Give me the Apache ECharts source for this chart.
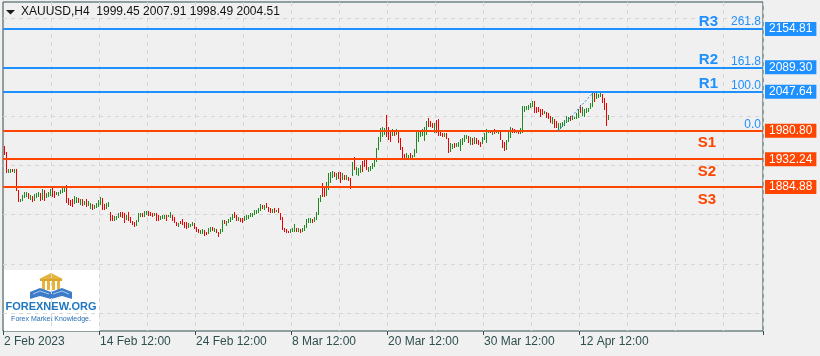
<!DOCTYPE html>
<html>
<head>
<meta charset="utf-8">
<script src="https://cdn.jsdelivr.net/npm/echarts@6/dist/echarts.min.js"></script>
<style>
html,body{margin:0;padding:0;background:#f0f0f0;}
#c{width:820px;height:356px;}
</style>
</head>
<body>
<div id="c"></div>
<script>
// ---------------- data ----------------
const symbolTitle = 'XAUUSD,H4  1999.45 2007.91 1998.49 2004.51';
const timeLabels = ['2 Feb 2023', '14 Feb 12:00', '24 Feb 12:00', '8 Mar 12:00', '20 Mar 12:00', '30 Mar 12:00', '12 Apr 12:00'];
const barsPerLabel = 48;
const slotCount = 380;

const highs = [
1954.9,1944.7,1915.6,1915.6,1915.6,1915.6,1915.6,1879.7,1864.4,1871.2,
1876.3,1876.3,1874.6,1871.2,1869.5,1872.9,1874.6,1876.3,1874.6,1881.5,
1879.7,1874.6,1876.3,1881.5,1883.2,1878.0,1876.3,1876.3,1879.7,1883.2,
1884.9,1888.3,1866.1,1862.7,1864.4,1869.5,1867.8,1866.1,1864.4,1864.4,
1860.9,1864.4,1860.9,1857.5,1855.8,1854.1,1857.5,1862.7,1867.8,1866.1,
1855.8,1857.5,1859.2,1842.2,1837.0,1835.3,1835.3,1840.4,1842.2,1842.2,
1840.4,1837.0,1842.2,1833.6,1826.8,1825.1,1828.5,1840.4,1840.4,1840.4,
1843.9,1843.9,1843.9,1842.2,1840.4,1840.4,1840.4,1837.0,1835.3,1837.0,
1837.0,1837.0,1837.0,1842.2,1837.0,1833.6,1825.1,1823.4,1826.8,1830.2,
1825.1,1825.1,1823.4,1821.7,1825.1,1823.4,1816.5,1813.1,1811.4,1813.1,
1811.4,1808.0,1814.8,1816.5,1816.5,1814.8,1813.1,1808.0,1813.1,1828.5,
1828.5,1826.8,1830.2,1833.6,1838.7,1842.2,1837.0,1833.6,1831.9,1831.9,
1835.3,1837.0,1837.0,1840.4,1840.4,1845.6,1845.6,1849.0,1855.8,1854.1,
1854.1,1857.5,1850.7,1849.0,1847.3,1849.0,1845.6,1849.0,1840.4,1833.6,
1814.8,1813.1,1809.7,1813.1,1814.8,1821.7,1814.8,1814.8,1813.1,1814.8,
1819.9,1830.2,1831.9,1831.9,1830.2,1833.6,1842.2,1866.1,1871.2,1891.7,
1886.6,1893.4,1908.8,1910.5,1912.2,1910.5,1908.8,1910.5,1910.5,1908.8,
1905.4,1905.4,1902.0,1900.2,1927.6,1936.1,1919.0,1917.3,1922.5,1929.3,
1931.0,1931.0,1919.0,1920.7,1925.9,1932.7,1951.5,1970.3,1985.7,1987.4,
1985.7,2007.9,1987.4,1978.8,1984.0,1980.5,1984.0,1982.3,1968.6,1953.2,
1941.2,1943.0,1939.5,1943.0,1939.5,1949.8,1978.8,1978.8,1982.3,1984.0,
1987.4,1997.6,2002.8,1997.6,1994.2,1994.2,1999.3,2001.0,1978.8,1977.1,
1977.1,1977.1,1968.6,1960.0,1958.3,1960.0,1960.0,1961.7,1966.9,1968.6,
1973.7,1973.7,1972.0,1970.3,1968.6,1970.3,1968.6,1965.2,1961.7,1970.3,
1977.1,1984.0,1982.3,1982.3,1982.3,1984.0,1982.3,1982.3,1978.8,1965.2,
1961.7,1965.2,1978.8,1987.4,1985.7,1984.0,1982.3,1980.5,1985.7,2023.3,
2023.3,2023.3,2025.0,2028.4,2031.8,2031.8,2021.5,2021.5,2018.1,2018.1,
2014.7,2013.0,2011.3,2006.2,2004.5,2001.0,1997.6,1994.2,1994.2,1995.9,
1999.3,2006.2,2004.5,2006.2,2006.2,2004.5,2011.3,2018.1,2025.0,2021.5,
2018.1,2019.8,2019.8,2028.4,2045.5,2047.6,2045.5,2043.8,2047.2,2043.8,
2036.9,2028.4,2007.91
];

const lows = [
1939.5,1908.8,1908.8,1908.8,1910.5,1908.8,1878.0,1859.2,1859.2,1860.9,
1866.1,1867.8,1864.4,1862.7,1859.2,1860.9,1866.1,1867.8,1860.9,1862.7,
1860.9,1866.1,1867.8,1869.5,1867.8,1866.1,1871.2,1869.5,1872.9,1874.6,
1876.3,1857.5,1854.1,1852.4,1850.7,1855.8,1857.5,1857.5,1854.1,1852.4,
1854.1,1850.7,1852.4,1847.3,1845.6,1847.3,1849.0,1850.7,1854.1,1845.6,
1845.6,1847.3,1850.7,1826.8,1826.8,1826.8,1828.5,1831.9,1833.6,1831.9,
1823.4,1828.5,1826.8,1823.4,1819.9,1816.5,1818.2,1825.1,1833.6,1833.6,
1833.6,1837.0,1835.3,1835.3,1833.6,1835.3,1826.8,1826.8,1828.5,1830.2,
1830.2,1826.8,1833.6,1831.9,1826.8,1823.4,1818.2,1816.5,1821.7,1819.9,
1814.8,1813.1,1814.8,1816.5,1818.2,1813.1,1808.0,1806.3,1804.6,1804.6,
1801.1,1802.9,1804.6,1808.0,1809.7,1808.0,1806.3,1799.4,1804.6,1808.0,
1821.7,1818.2,1823.4,1825.1,1828.5,1831.9,1826.8,1826.8,1825.1,1823.4,
1826.8,1828.5,1830.2,1833.6,1833.6,1837.0,1838.7,1840.4,1843.9,1847.3,
1845.6,1849.0,1842.2,1840.4,1840.4,1840.4,1842.2,1840.4,1828.5,1811.4,
1808.0,1806.3,1806.3,1806.3,1808.0,1808.0,1808.0,1808.0,1806.3,1808.0,
1809.7,1814.8,1823.4,1823.4,1823.4,1825.1,1828.5,1837.0,1859.2,1867.8,
1867.8,1869.5,1879.7,1891.7,1900.2,1902.0,1896.8,1898.5,1891.7,1896.8,
1896.8,1896.8,1895.1,1881.5,1903.7,1913.9,1905.4,1903.7,1908.8,1910.5,
1919.0,1913.9,1910.5,1912.2,1915.6,1919.0,1927.6,1948.1,1961.7,1970.3,
1973.7,1970.3,1965.2,1961.7,1972.0,1972.0,1973.7,1960.0,1948.1,1934.4,
1931.0,1934.4,1932.7,1932.7,1934.4,1936.1,1943.0,1961.7,1970.3,1972.0,
1963.5,1973.7,1987.4,1987.4,1985.7,1977.1,1977.1,1972.0,1972.0,1970.3,
1970.3,1966.9,1943.0,1944.7,1949.8,1951.5,1953.2,1953.2,1946.4,1956.6,
1961.7,1966.9,1960.0,1956.6,1956.6,1958.3,1958.3,1956.6,1953.2,1958.3,
1965.2,1960.0,1977.1,1977.1,1973.7,1975.4,1977.1,1975.4,1965.2,1951.5,
1946.4,1948.1,1961.7,1968.6,1977.1,1977.1,1977.1,1975.4,1975.4,1977.1,
2013.0,2016.4,2016.4,2019.8,2021.5,2011.3,2011.3,2013.0,2004.5,2007.9,
2009.6,2002.8,2001.0,1994.2,1992.5,1985.7,1985.7,1980.2,1984.0,1987.4,
1989.1,1994.2,1995.9,1997.6,1999.3,2001.0,2001.0,2002.8,2011.3,2006.2,
2004.5,2011.3,2013.0,2018.1,2021.5,2030.1,2035.2,2036.9,2038.6,2028.4,
2016.4,1989.1,1998.49
];

// G = bullish bar, R = bearish bar
const barDir = (
'RRGGRGRRGG' + 'GGRGRGGGRG' + 'RGGGRRGGGG' + 'GRRRRGGRGR' + 'GRGGRGGGGR' +
'RGGRRGGGRR' + 'RGRRRRGGGR' + 'GGRRRGRRGG' + 'GRGGRRRGRR' + 'RRGGGRRRGG' +
'RRGGRGRRGG' + 'RGGGGRRGRR' + 'GGGGGGGGGR' + 'GRRRGRGRRR' + 'RRRGGGRGRG' +
'GGGGRGGGGR' + 'RGGGGRGRRG' + 'RGRRGRGGGR' + 'RRGGGGGGGG' + 'GRRRGRGRRR' +
'RGGRGGGGGG' + 'GGRRRGRRRR' + 'GRRGGRGGGG' + 'GGRGRGRRRG' + 'GGGRGRGGRR' +
'RGGGRRGRGG' + 'GGGGGRRRRR' + 'GRRRGRRGGG' + 'GGGRGGGGRG' + 'GGGGGRGGGR' +
'RRG').split('');

const levelNames  = ['R3', 'R2', 'R1', 'S1', 'S2', 'S3'];
const levelPrices = [2154.81, 2089.30, 2047.64, 1980.80, 1932.24, 1884.88];

const fibLow = 1980.23, fibHigh = 2047.64;
const fibAnchorBars = [277, 295];
const fibRatios = [261.8, 161.8, 100.0, 0.0];

const priceMin = 1638.8, priceMax = 2200.9;

// ---------------- chart ----------------
const FONT = '"Liberation Sans", Arial, sans-serif';
const GREEN = '#1f8a1f', RED = '#ee0000';
const BLUE = '#1e90ff', ORANGE = '#ff4500';
const FRAME = '#2f4f4f';
const GRIDC = '#d6d6d6';
const CLEAR = 'rgba(0,0,0,0)';

const cats = Array.from({length: slotCount}, (_, k) =>
  (k % barsPerLabel === 0 && k / barsPerLabel < timeLabels.length) ? timeLabels[k / barsPerLabel] : '');

const barData = highs.map((h, k) => [k, lows[k], h, barDir[k] === 'G' ? 1 : 0]);

function renderBar(params, api) {
  const k = api.value(0);
  const lo = api.coord([k, api.value(1)]);
  const hi = api.coord([k, api.value(2)]);
  const x = Math.floor(lo[0]) + 0.5;
  let y1 = Math.round(hi[1]), y2 = Math.round(lo[1]);
  if (y2 - y1 < 2) y2 = y1 + 2;
  return {
    type: 'line',
    shape: {x1: x, y1: y1, x2: x, y2: y2},
    style: {stroke: api.value(3) ? GREEN : RED, lineWidth: 1}
  };
}

const fibPrice = r => fibLow + (fibHigh - fibLow) * r / 100;

const priceLines = [];
const nameLines = [];
levelNames.forEach((nm, i) => {
  const p = levelPrices[i];
  const isR = nm[0] === 'R';
  const col = isR ? BLUE : ORANGE;
  priceLines.push({
    yAxis: p,
    lineStyle: {color: col, width: 2, type: 'solid'},
    label: {show: true, position: 'end', distance: 2, formatter: p.toFixed(2),
      backgroundColor: col, color: '#fff', fontSize: 12, fontFamily: FONT,
      padding: [1, 4, 1, 4], lineHeight: 12}
  });
  nameLines.push({
    yAxis: p,
    lineStyle: {color: CLEAR, width: 0},
    label: {show: true, position: isR ? 'insideEndTop' : 'insideEndBottom',
      distance: isR ? [45, 0] : [47, 5], formatter: nm, color: col,
      fontSize: 15, fontWeight: 'bold', fontFamily: FONT}
  });
});
fibRatios.forEach(r => {
  nameLines.push({
    yAxis: fibPrice(r),
    lineStyle: {color: CLEAR, width: 0},
    label: {show: true, position: 'insideEndTop', distance: [2, 0],
      formatter: r.toFixed(1), color: BLUE, fontSize: 12, fontFamily: FONT}
  });
});

const chart = echarts.init(document.getElementById('c'), null, {renderer: 'canvas'});
chart.setOption({
  animation: false,
  backgroundColor: '#f0f0f0',
  grid: [
    {left: 3, right: 57, top: 2, bottom: 25, show: true, borderColor: FRAME, borderWidth: 1, backgroundColor: 'transparent'},
    {left: 3, right: 57, top: 18, bottom: 43, show: false}
  ],
  xAxis: [
    {
      type: 'category', gridIndex: 0, data: cats, boundaryGap: true,
      axisLine: {show: false},
      axisTick: {show: true, interval: (i, v) => v !== '', length: 4, lineStyle: {color: FRAME}},
      axisLabel: {show: true, interval: (i, v) => v !== '', align: 'left', margin: 5,
        color: FRAME, fontSize: 12, fontFamily: FONT},
      splitLine: {show: true, interval: (i) => i > 0 && i % 24 === 0,
        lineStyle: {color: GRIDC, type: [4, 4], width: 1}}
    },
    {type: 'value', gridIndex: 1, show: false, min: 0, max: 1}
  ],
  yAxis: [
    {type: 'value', gridIndex: 0, min: priceMin, max: priceMax, show: false, splitLine: {show: false}},
    {type: 'value', gridIndex: 1, min: 0, max: 6, interval: 1,
      axisLine: {show: false}, axisTick: {show: false}, axisLabel: {show: false},
      splitLine: {show: true, lineStyle: {color: GRIDC, type: [4, 4], width: 1}}}
  ],
  series: [
    {
      type: 'custom', name: 'XAUUSD', xAxisIndex: 0, yAxisIndex: 0,
      data: barData, encode: {x: 0, y: [1, 2]}, renderItem: renderBar, z: 3,
      markLine: {symbol: ['none', 'none'], silent: true, animation: false, data: priceLines, z: 5}
    },
    {
      type: 'line', xAxisIndex: 0, yAxisIndex: 0, z: 6,
      data: [[fibAnchorBars[0], fibLow], [fibAnchorBars[1], fibHigh]],
      symbol: 'none', silent: true,
      lineStyle: {type: [2, 2], color: BLUE, width: 1},
      markLine: {symbol: ['none', 'none'], silent: true, animation: false, data: nameLines, z: 7}
    },
    {type: 'line', xAxisIndex: 1, yAxisIndex: 1, data: []}
  ],
  graphic: [
    {type: 'polygon', z: 10, shape: {points: [[6, 10], [15, 10], [10.5, 14.5]]}, style: {fill: '#1a1a1a'}},
    {type: 'text', z: 10, left: 21, top: 6, style: {text: symbolTitle, font: '12px ' + FONT, fill: '#111'}},
    {
      type: 'group', left: 4, top: 270, z: 10,
      children: [
        {type: 'rect', shape: {x: 0, y: 0, width: 95, height: 61}, style: {fill: '#ffffff'}},
        {type: 'polygon', shape: {points: [[35, 9], [59, 9], [47, 3]]}, style: {fill: '#e5b43c'}},
        {type: 'rect', shape: {x: 36, y: 9, width: 22, height: 2}, style: {fill: '#d9a52e'}},
        {type: 'rect', shape: {x: 38, y: 11, width: 3, height: 9}, style: {fill: '#e5b43c'}},
        {type: 'rect', shape: {x: 43, y: 11, width: 3, height: 9}, style: {fill: '#e5b43c'}},
        {type: 'rect', shape: {x: 48, y: 11, width: 3, height: 9}, style: {fill: '#e5b43c'}},
        {type: 'rect', shape: {x: 53, y: 11, width: 3, height: 9}, style: {fill: '#e5b43c'}},
        {type: 'polygon', shape: {points: [[26, 22], [36, 18], [47, 22], [47, 29], [36, 26], [26, 29]]}, style: {fill: '#3d7cc9'}},
        {type: 'polygon', shape: {points: [[68, 22], [58, 18], [47, 22], [47, 29], [58, 26], [68, 29]]}, style: {fill: '#3d7cc9'}},
        {type: 'polyline', shape: {points: [[29, 24], [36, 21], [45, 24]]}, style: {stroke: '#a9c8ee', lineWidth: 1, fill: null}},
        {type: 'polyline', shape: {points: [[49, 24], [58, 21], [65, 24]]}, style: {stroke: '#a9c8ee', lineWidth: 1, fill: null}},
        {type: 'text', x: 47, y: 37, style: {text: 'FOREXNEW.ORG', font: 'bold 11px ' + FONT, fill: '#1f77c0', align: 'center', verticalAlign: 'middle'}},
        {type: 'text', x: 47, y: 49, style: {text: 'Forex Market Knowledge.', font: '7px ' + FONT, fill: '#2a6fb5', align: 'center', verticalAlign: 'middle'}}
      ]
    }
  ]
});
</script>
</body>
</html>
